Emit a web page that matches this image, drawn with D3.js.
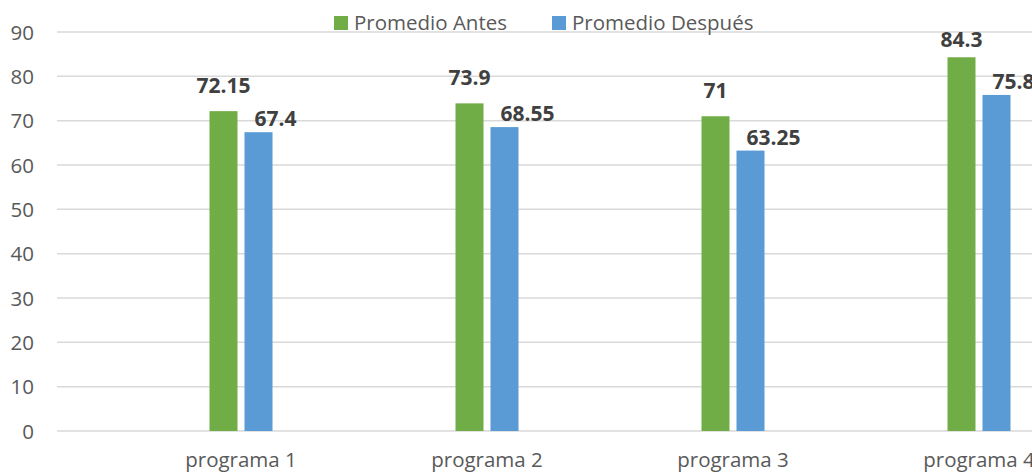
<!DOCTYPE html>
<html>
<head>
<meta charset="utf-8">
<script src="https://cdn.jsdelivr.net/npm/d3@7"></script>
<style>
  html, body { margin: 0; padding: 0; background: #fff; }
  svg { display: block; font-family: "Open Sans", sans-serif; }
</style>
</head>
<body>
<div id="chart"></div>
<script>
// Data
const categories = ["programa 1", "programa 2", "programa 3", "programa 4"];
const seriesNames = ["Promedio Antes", "Promedio Después"];
const antes = [72.15, 73.9, 71, 84.3];
const despues = [67.4, 68.55, 63.25, 75.8];
const yTicks = [0, 10, 20, 30, 40, 50, 60, 70, 80, 90];

const colors = { "Promedio Antes": "#70AD47", "Promedio Después": "#5B9BD5" };

const width = 1032;
const height = 474;
const plotLeft = 57;
const plotTop = 32;
const plotBottom = 431;

const rows = categories.map((c, i) => ({
    category: c,
    values: [
        { series: seriesNames[0], value: antes[i] },
        { series: seriesNames[1], value: despues[i] }
    ]
}));

// Scales
const y = d3.scaleLinear()
    .domain([0, 90])
    .range([plotBottom, plotTop]);

const x0 = d3.scaleBand()
    .domain(categories)
    .range([118, 1102])
    .paddingInner(0);

const groupWidth = 63;
const x1 = d3.scaleBand()
    .domain(seriesNames)
    .range([0, groupWidth])
    .paddingInner(0.2);

const svg = d3.select("#chart")
    .append("svg")
    .attr("width", width)
    .attr("height", height)
    .attr("viewBox", [0, 0, width, height]);

// Gridlines
svg.append("g")
    .selectAll("line")
    .data(yTicks)
    .join("line")
    .attr("x1", plotLeft)
    .attr("x2", width)
    .attr("y1", d => y(d))
    .attr("y2", d => y(d))
    .attr("stroke", "#D9D9D9")
    .attr("stroke-width", 1.5);

// Y axis labels
svg.append("g")
    .attr("transform", `translate(${plotLeft},0)`)
    .call(d3.axisLeft(y).tickValues(yTicks).tickSize(0).tickPadding(23))
    .call(g => g.select(".domain").remove())
    .call(g => g.selectAll(".tick text")
        .attr("dy", "0.35em")
        .attr("font-family", "Open Sans")
        .attr("font-size", "20.5px")
        .attr("fill", "#595959"));

// X axis labels
svg.append("g")
    .attr("transform", `translate(0,${plotBottom})`)
    .call(d3.axisBottom(x0).tickSize(0).tickPadding(21.5))
    .call(g => g.select(".domain").remove())
    .call(g => g.selectAll(".tick text")
        .attr("font-family", "Open Sans")
        .attr("font-size", "20.5px")
        .attr("fill", "#595959"));

// Bars
const groups = svg.append("g")
    .selectAll("g")
    .data(rows)
    .join("g")
    .attr("transform", d => `translate(${x0(d.category) + (x0.bandwidth() - groupWidth) / 2},0)`);

groups.selectAll("rect")
    .data(d => d.values)
    .join("rect")
    .attr("x", d => x1(d.series))
    .attr("y", d => y(d.value))
    .attr("width", x1.bandwidth())
    .attr("height", d => y(0) - y(d.value))
    .attr("fill", d => colors[d.series]);

// Value labels
groups.selectAll("text.value")
    .data(d => d.values)
    .join("text")
    .attr("class", "value")
    .attr("font-family", "Open Sans")
    .attr("font-weight", "bold")
    .attr("font-size", "21px")
    .attr("fill", "#404040")
    .attr("text-anchor", d => d.series === seriesNames[0] ? "middle" : "start")
    .attr("x", d => d.series === seriesNames[0]
        ? x1(d.series) + x1.bandwidth() / 2
        : x1(d.series) + 10)
    .attr("y", d => d.series === seriesNames[0]
        ? Math.max(y(d.value) - 18, plotTop + 15)
        : y(d.value) - 6)
    .text(d => d.value);

// Legend
const legend = svg.append("g");
const legendX = [334, 552];
seriesNames.forEach((name, i) => {
    legend.append("rect")
        .attr("x", legendX[i])
        .attr("y", 16)
        .attr("width", 14)
        .attr("height", 14)
        .attr("fill", colors[name]);
    legend.append("text")
        .attr("x", legendX[i] + 20)
        .attr("y", 30)
        .attr("font-family", "Open Sans")
        .attr("font-size", "20.5px")
        .attr("fill", "#595959")
        .text(name);
});
</script>
</body>
</html>
